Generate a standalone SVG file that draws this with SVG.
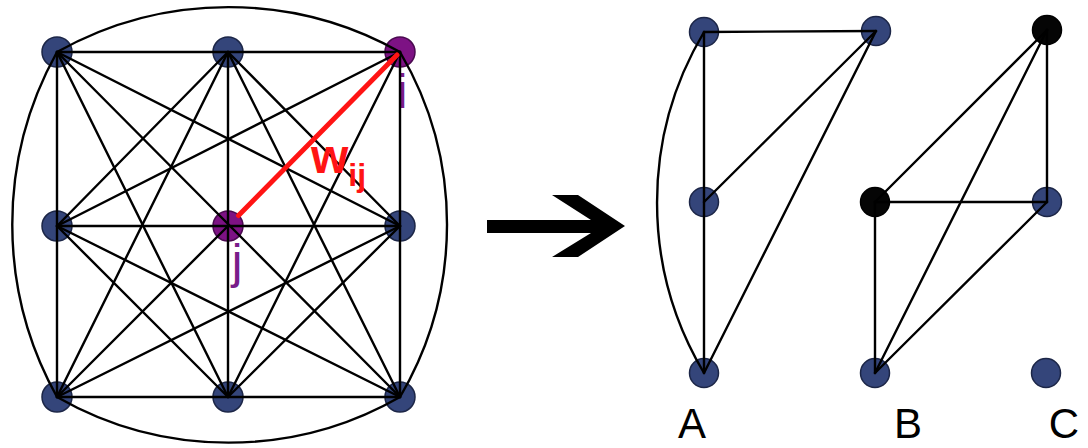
<svg xmlns="http://www.w3.org/2000/svg" width="1088" height="448" viewBox="0 0 1088 448">
  <style>
    .bg { fill: #ffffff; }
    .node-blue { fill: #34457a; stroke: #1c2647; stroke-width: 1.5; }
    .node-purple { fill: #7d1284; stroke: #4a0a50; stroke-width: 1.5; }
    .node-black { fill: #050505; stroke: #000000; stroke-width: 1.5; }
    .edge { stroke: #000000; stroke-width: 2.4; fill: none; stroke-linecap: round; }
    .edge-red { stroke: #ff1414; stroke-width: 5; fill: none; stroke-linecap: round; }
    .lbl-purple { fill: #7a1d8a; font-family: "Liberation Sans", Arial, sans-serif; font-size: 48px; text-anchor: middle; }
    .lbl-red { fill: #ff1414; font-family: "Liberation Sans", Arial, sans-serif; font-weight: bold; }
    .lbl { fill: #000000; font-family: "Liberation Sans", Arial, sans-serif; font-size: 42px; text-anchor: middle; }
  </style>
  <rect class="bg" x="0" y="0" width="1088" height="448"/>

  <!-- Left graph nodes -->
  <g id="nodes-left">
    <g id="n-TL"><circle class="node-blue" cx="57" cy="52" r="15"/></g>
    <g id="n-TM"><circle class="node-blue" cx="228" cy="52" r="15"/></g>
    <g id="n-TR"><circle class="node-purple" cx="400" cy="52" r="15"/><text class="lbl-purple" x="402" y="108">i</text></g>
    <g id="n-ML"><circle class="node-blue" cx="57" cy="226" r="15"/></g>
    <g id="n-C"><circle class="node-purple" cx="228" cy="226" r="15"/><text class="lbl-purple" x="237" y="278">j</text></g>
    <g id="n-MR"><circle class="node-blue" cx="400" cy="226" r="15"/></g>
    <g id="n-BL"><circle class="node-blue" cx="57" cy="397" r="15"/></g>
    <g id="n-BM"><circle class="node-blue" cx="228" cy="397" r="15"/></g>
    <g id="n-BR"><circle class="node-blue" cx="400" cy="397" r="15"/></g>
  </g>

  <!-- Right graph nodes -->
  <g id="nodes-right">
    <g id="a-top"><circle class="node-blue" cx="704" cy="32" r="14.5"/></g>
    <g id="a-topright"><circle class="node-blue" cx="876" cy="31" r="14.5"/></g>
    <g id="a-mid"><circle class="node-blue" cx="704" cy="202" r="14.5"/></g>
    <g id="a-bot"><circle class="node-blue" cx="704" cy="373" r="14.5"/></g>
    <g id="b-top"><circle class="node-black" cx="1047" cy="30" r="14.5"/></g>
    <g id="b-mid"><circle class="node-black" cx="875" cy="202" r="14.5"/></g>
    <g id="b-right"><circle class="node-blue" cx="1047" cy="202" r="14.5"/></g>
    <g id="b-bot"><circle class="node-blue" cx="875" cy="373" r="14.5"/></g>
    <g id="c-node"><circle class="node-blue" cx="1046" cy="373" r="14.5"/></g>
  </g>

  <!-- Connectors -->
  <g id="connectors">
    <!-- rows -->
    <line class="edge" x1="57" y1="52" x2="400" y2="52"/>
    <line class="edge" x1="57" y1="226" x2="400" y2="226"/>
    <line class="edge" x1="57" y1="397" x2="400" y2="397"/>
    <!-- columns -->
    <line class="edge" x1="57" y1="52" x2="57" y2="397"/>
    <line class="edge" x1="228" y1="52" x2="228" y2="397"/>
    <line class="edge" x1="400" y1="52" x2="400" y2="397"/>
    <!-- main diagonals -->
    <line class="edge" x1="57" y1="52" x2="400" y2="397"/>
    <line class="edge" x1="57" y1="397" x2="228" y2="226"/>
    <!-- short diagonals -->
    <line class="edge" x1="228" y1="52" x2="57" y2="226"/>
    <line class="edge" x1="228" y1="52" x2="400" y2="226"/>
    <line class="edge" x1="57" y1="226" x2="228" y2="397"/>
    <line class="edge" x1="400" y1="226" x2="228" y2="397"/>
    <!-- knight lines -->
    <line class="edge" x1="57" y1="52" x2="400" y2="226"/>
    <line class="edge" x1="57" y1="52" x2="228" y2="397"/>
    <line class="edge" x1="400" y1="52" x2="57" y2="226"/>
    <line class="edge" x1="400" y1="52" x2="228" y2="397"/>
    <line class="edge" x1="57" y1="397" x2="228" y2="52"/>
    <line class="edge" x1="57" y1="397" x2="400" y2="226"/>
    <line class="edge" x1="400" y1="397" x2="228" y2="52"/>
    <line class="edge" x1="400" y1="397" x2="57" y2="226"/>
    <!-- outer arcs -->
    <path class="edge" d="M57,52 A350,350 0 0 1 400,52"/>
    <path class="edge" d="M400,52 A340,340 0 0 1 400,397"/>
    <path class="edge" d="M400,397 A345,345 0 0 1 57,397"/>
    <path class="edge" d="M57,397 A355,355 0 0 1 57,52"/>
    <!-- red weighted edge -->
    <line class="edge-red" x1="397" y1="55" x2="238.5" y2="215.5"/>

    <!-- A graph -->
    <line class="edge" x1="704" y1="32" x2="876" y2="31"/>
    <line class="edge" x1="704" y1="32" x2="704" y2="373"/>
    <path class="edge" d="M704,373 A333,333 0 0 1 704,32"/>
    <line class="edge" x1="704" y1="202" x2="876" y2="31"/>
    <line class="edge" x1="704" y1="373" x2="876" y2="31"/>

    <!-- B graph -->
    <line class="edge" x1="1047" y1="30" x2="875" y2="202"/>
    <line class="edge" x1="1047" y1="30" x2="875" y2="373"/>
    <line class="edge" x1="1047" y1="30" x2="1047" y2="202"/>
    <line class="edge" x1="875" y1="202" x2="1047" y2="202"/>
    <line class="edge" x1="875" y1="202" x2="875" y2="373"/>
    <line class="edge" x1="1047" y1="202" x2="875" y2="373"/>
  </g>

  <!-- weight label -->
  <text class="lbl-red" x="311" y="173" font-size="48">w<tspan font-size="32" dy="13">ij</tspan></text>

  <!-- big arrow -->
  <polygon fill="#000000" points="487,220 591,220 552,195 578,195 625,226 578,257 552,257 591,233 487,233"/>

  <!-- component labels -->
  <text class="lbl" x="692" y="438">A</text>
  <text class="lbl" x="908" y="438">B</text>
  <text class="lbl" x="1064" y="438">C</text>
</svg>
